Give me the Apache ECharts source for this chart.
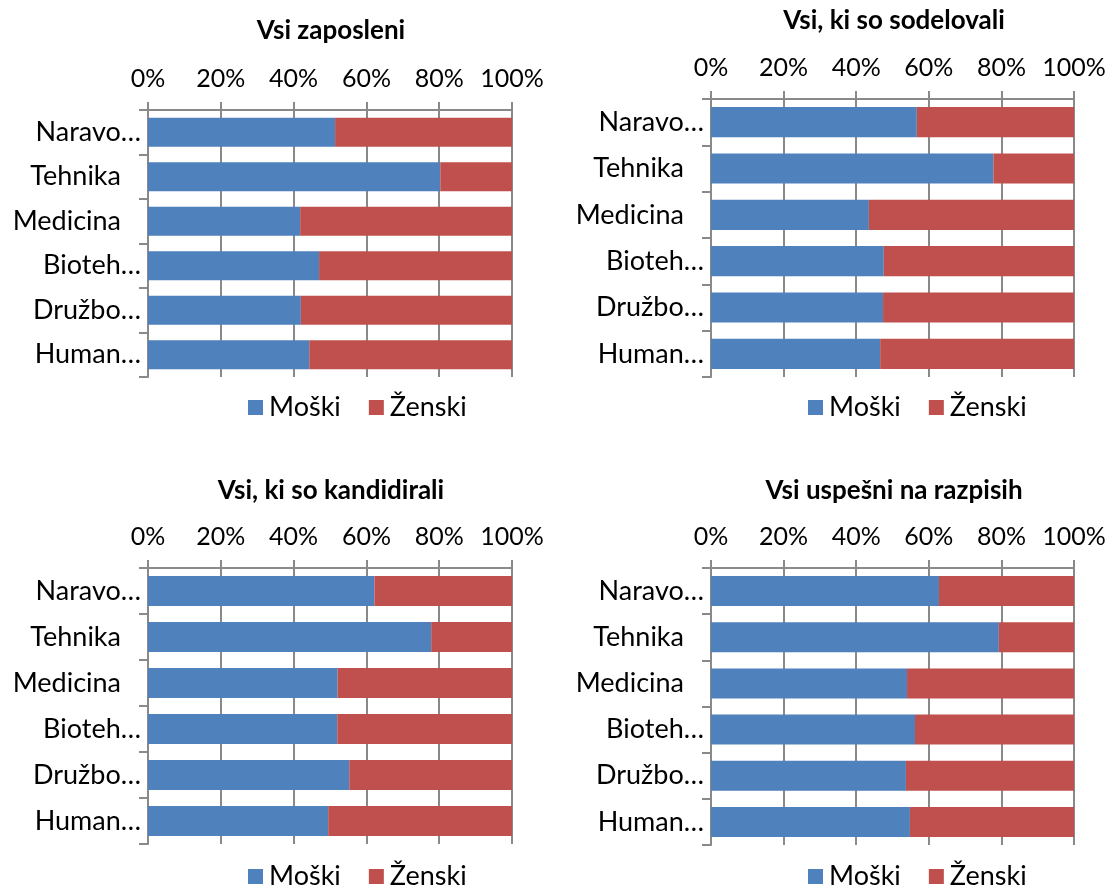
<!DOCTYPE html>
<html>
<head>
<meta charset="utf-8">
<title>Moški / Ženski</title>
<script src="https://cdn.jsdelivr.net/npm/echarts@6/dist/echarts.min.js"></script>
<style>
  html, body { margin: 0; padding: 0; background: #fff; }
  #chart { width: 1110px; height: 886px; }
</style>
</head>
<body>
<div id="chart"></div>
<script>
// kategorije (kot so izpisane na osi)
const categories = ['Naravo…', 'Tehnika', 'Medicina', 'Bioteh…', 'Družbo…', 'Human…']
const xTicks = [0, 20, 40, 60, 80, 100]
const titles = ['Vsi zaposleni', 'Vsi, ki so sodelovali', 'Vsi, ki so kandidirali', 'Vsi uspešni na razpisih']
const seriesNames = ['Moški', 'Ženski']

// deleži v %
const zaposleniMoski = [51.4, 80.3, 41.8, 47.0, 42.0, 44.3]
const zaposleniZenski = [48.6, 19.7, 58.2, 53.0, 58.0, 55.7]
const sodelovaliMoski = [56.7, 77.8, 43.5, 47.6, 47.4, 46.6]
const sodelovaliZenski = [43.3, 22.2, 56.5, 52.4, 52.6, 53.4]
const kandidiraliMoski = [62.2, 77.8, 52.1, 52.0, 55.3, 49.5]
const kandidiraliZenski = [37.8, 22.2, 47.9, 48.0, 44.7, 50.5]
const uspesniMoski = [62.8, 79.3, 54.0, 56.2, 53.7, 54.8]
const uspesniZenski = [37.2, 20.7, 46.0, 43.8, 46.3, 45.2]

const panelData = [
  [zaposleniMoski, zaposleniZenski],
  [sodelovaliMoski, sodelovaliZenski],
  [kandidiraliMoski, kandidiraliZenski],
  [uspesniMoski, uspesniZenski]
]

const font = 'Lato, "Open Sans", sans-serif'
const gray = '#898989'
const colors = ['#4f81bd', '#c0504d']

// postavitev posameznih grafov
const grids = [
  { left: 148, top: 110, width: 364, height: 267 },
  { left: 711, top: 99, width: 363, height: 278 },
  { left: 148, top: 568, width: 364, height: 276 },
  { left: 711, top: 568, width: 363, height: 277 }
]
const titlePos = [[331, 18], [894, 8], [331, 478], [894, 478]]
const legendPos = [[243, 389], [803, 389], [243, 858], [803, 858]]

const chart = echarts.init(document.getElementById('chart'))

const option = {
  animation: false,
  color: colors,
  textStyle: { fontFamily: font },
  title: [],
  legend: [],
  grid: [],
  xAxis: [],
  yAxis: [],
  series: []
}

panelData.forEach((pair, i) => {
  option.title.push({
    text: titles[i],
    left: titlePos[i][0],
    top: titlePos[i][1],
    padding: 0,
    textAlign: 'center',
    textStyle: { fontFamily: font, fontSize: 26, fontWeight: 'bold', color: '#000' }
  })
  option.legend.push({
    data: seriesNames,
    left: legendPos[i][0],
    top: legendPos[i][1],
    icon: 'rect',
    itemWidth: 15,
    itemHeight: 15,
    itemGap: 28,
    selectedMode: false,
    textStyle: { fontFamily: font, fontSize: 27, color: '#000', padding: [0, 0, 0, 1] }
  })
  option.grid.push(Object.assign({ containLabel: false }, grids[i]))
  option.xAxis.push({
    type: 'value',
    gridIndex: i,
    position: 'top',
    min: xTicks[0],
    max: xTicks[xTicks.length - 1],
    interval: 20,
    axisLine: { show: true, lineStyle: { color: gray, width: 2 } },
    axisTick: { show: true, length: 8, lineStyle: { color: gray, width: 2 } },
    splitLine: { show: true, lineStyle: { color: gray, width: 2 } },
    axisLabel: {
      margin: 19,
      fontFamily: font,
      fontSize: 25,
      color: '#000',
      formatter: '{value}%'
    }
  })
  option.yAxis.push({
    type: 'category',
    gridIndex: i,
    inverse: true,
    data: categories,
    axisLine: { show: true, lineStyle: { color: gray, width: 2 } },
    axisTick: { show: true, length: 9, lineStyle: { color: gray, width: 2 } },
    splitLine: { show: false },
    axisLabel: {
      margin: 7,
      fontFamily: font,
      fontSize: 27,
      color: '#000',
      formatter: v => v.endsWith('…') ? v : '{p|' + v + '}',
      rich: { p: { fontFamily: font, fontSize: 27, color: '#000', padding: [0, 20, 0, 0] } }
    }
  })
  pair.forEach((vals, s) => {
    option.series.push({
      name: seriesNames[s],
      type: 'bar',
      stack: 'total' + i,
      xAxisIndex: i,
      yAxisIndex: i,
      barCategoryGap: '35%',
      data: vals,
      itemStyle: { color: colors[s] }
    })
  })
})

chart.setOption(option)
</script>
</body>
</html>
